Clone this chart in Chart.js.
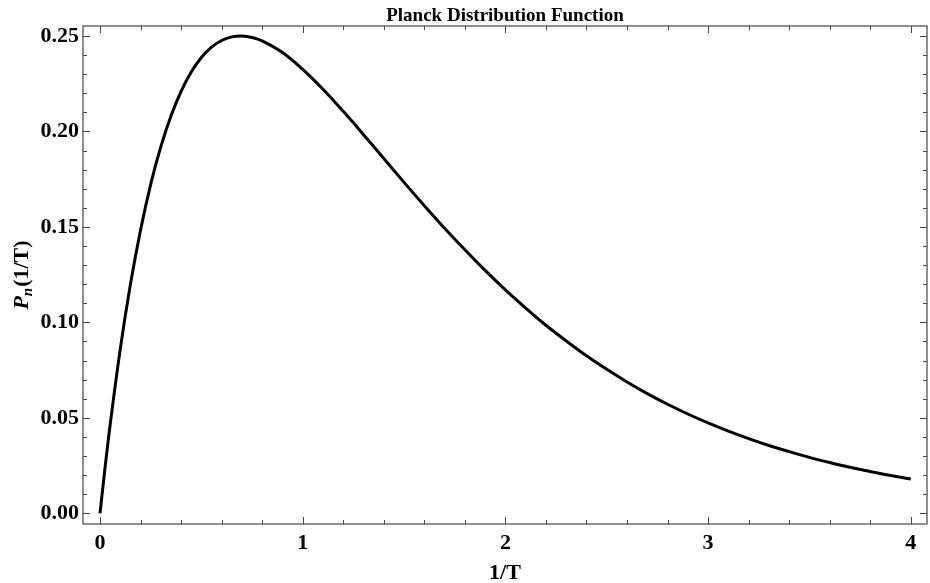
<!DOCTYPE html>
<html>
<head>
<meta charset="utf-8">
<title>Planck Distribution Function</title>
<script src="https://cdn.jsdelivr.net/npm/chart.js@4"></script>
<style>
body { margin: 0; background: #fff; }
#box { width: 930px; height: 583px; }
</style>
</head>
<body>
<div id="box"><canvas id="chart" width="930" height="583"></canvas></div>
<script>
/*
 * 曲线数据。
 */
var xValues = [0, 0.025, 0.05, 0.1, 0.15, 0.2, 0.25, 0.3, 0.35, 0.4, 0.45, 0.5,
	0.55, 0.6, 0.65, 0.7, 0.75, 0.8, 0.9, 1.0, 1.1, 1.2, 1.3, 1.4, 1.5, 1.6, 1.7, 1.8, 1.9, 2.0,
	2.1, 2.2, 2.3, 2.4, 2.5, 2.6, 2.7, 2.8, 2.9, 3.0, 3.1, 3.2, 3.3, 3.4, 3.5,
	3.6, 3.7, 3.8, 3.9, 4.0];
var yValues = [0, 0.0241, 0.0464, 0.0861, 0.1199, 0.1484, 0.1723, 0.1920, 0.2081, 0.2210, 0.2311, 0.2387,
	0.2441, 0.2476, 0.2495, 0.2500, 0.2492, 0.2474, 0.2413, 0.2325, 0.2221, 0.2105, 0.1983, 0.1858, 0.1733, 0.1611, 0.1493, 0.1380, 0.1272, 0.1170,
	0.1075, 0.0985, 0.0903, 0.0825, 0.0754, 0.0688, 0.0627, 0.0571, 0.0520, 0.0473, 0.0430, 0.0391, 0.0355, 0.0323, 0.0293,
	0.0266, 0.0241, 0.0219, 0.0198, 0.0180];

/*
 * 刻度。
 */
var xTicks = [0, 1, 2, 3, 4];
var yTicks = [0, 0.05, 0.10, 0.15, 0.20, 0.25];
var xMinorStep = 0.2;
var yMinorStep = 0.01;

var chartTitle = 'Planck Distribution Function';
var serif = "'Liberation Serif', 'Times New Roman', serif";

var points = [];
for (var i = 0; i < xValues.length; i++) {
	points.push({ x : xValues[i], y : yValues[i] });
}

/*
 * 画边框、向内的刻度线、标题和纵轴标题。
 */
var framePlugin = {
	id : 'frame',
	afterDraw : function(chart) {
		var ctx = chart.ctx;
		var a = chart.chartArea;
		var xs = chart.scales.x;
		var ys = chart.scales.y;
		ctx.save();
		ctx.strokeStyle = '#444';
		ctx.lineWidth = 1.2;
		ctx.strokeRect(a.left, a.top, a.right - a.left, a.bottom - a.top);

		ctx.lineWidth = 1;
		ctx.beginPath();
		var v, p, len;
		for (v = Math.ceil(xs.min / xMinorStep) * xMinorStep; v <= xs.max + 1e-9; v += xMinorStep) {
			p = Math.round(xs.getPixelForValue(v)) + 0.5;
			len = Math.abs(v - Math.round(v)) < 1e-6 ? 7 : 4;
			ctx.moveTo(p, a.bottom);
			ctx.lineTo(p, a.bottom - len);
			ctx.moveTo(p, a.top);
			ctx.lineTo(p, a.top + len);
		}
		for (var k = Math.ceil(ys.min / yMinorStep); k * yMinorStep <= ys.max + 1e-9; k++) {
			v = k * yMinorStep;
			p = Math.round(ys.getPixelForValue(v)) + 0.5;
			len = k % 5 == 0 ? 7 : 4;
			ctx.moveTo(a.left, p);
			ctx.lineTo(a.left + len, p);
			ctx.moveTo(a.right, p);
			ctx.lineTo(a.right - len, p);
		}
		ctx.stroke();

		// 标题,居中于绘图区
		ctx.fillStyle = '#000';
		ctx.textAlign = 'center';
		ctx.textBaseline = 'alphabetic';
		ctx.font = 'bold 19px ' + serif;
		ctx.fillText(chartTitle, (a.left + a.right) / 2, 21);

		// 纵轴标题 P_n(1/T)
		ctx.textAlign = 'left';
		var cy = (a.top + a.bottom) / 2;
		ctx.translate(21, cy);
		ctx.rotate(-Math.PI / 2);
		var f1 = 'italic bold 22px ' + serif;
		var f2 = 'italic bold 15px ' + serif;
		var f3 = 'bold 22px ' + serif;
		ctx.font = f1;
		var w1 = ctx.measureText('P').width;
		ctx.font = f2;
		var w2 = ctx.measureText('n').width;
		ctx.font = f3;
		var w3 = ctx.measureText('(1/T)').width;
		var x0 = -(w1 + w2 + 1 + w3) / 2;
		var base = 7;
		ctx.font = f1;
		ctx.fillText('P', x0, base);
		ctx.font = f2;
		ctx.fillText('n', x0 + w1, base + 4);
		ctx.font = f3;
		ctx.fillText('(1/T)', x0 + w1 + w2 + 1, base);
		ctx.restore();
	}
};

var config = {
	type : 'line',
	data : {
		datasets : [ {
			data : points,
			borderColor : '#000',
			borderWidth : 3,
			pointRadius : 0,
			fill : false,
			tension : 0.4
		} ]
	},
	options : {
		responsive : false,
		devicePixelRatio : 1,
		animation : false,
		layout : {
			padding : { left : 0, right : 3, top : 26, bottom : 0 }
		},
		plugins : {
			legend : { display : false },
			tooltip : { enabled : false },
			title : { display : false }
		},
		scales : {
			x : {
				type : 'linear',
				min : -0.084,
				max : 4.08,
				grid : { display : false, drawTicks : false },
				border : { display : false },
				afterBuildTicks : function(scale) {
					scale.ticks = xTicks.map(function(v) { return { value : v }; });
				},
				afterFit : function(scale) {
					scale.height = 59;
				},
				ticks : {
					autoSkip : false,
					maxRotation : 0,
					padding : 6,
					color : '#000',
					font : { family : serif, size : 22, weight : 'bold' },
					callback : function(value) { return String(value); }
				},
				title : {
					display : true,
					text : '1/T',
					color : '#000',
					font : { family : serif, size : 22, weight : 'bold', lineHeight : 0.9 },
					padding : { top : 0, bottom : 0 }
				}
			},
			y : {
				type : 'linear',
				min : -0.0056,
				max : 0.2552,
				grid : { display : false, drawTicks : false },
				border : { display : false },
				afterBuildTicks : function(scale) {
					scale.ticks = yTicks.map(function(v) { return { value : v }; });
				},
				afterFit : function(scale) {
					scale.width = 83;
				},
				ticks : {
					autoSkip : false,
					padding : 4,
					color : '#000',
					font : { family : serif, size : 22, weight : 'bold' },
					callback : function(value) { return value.toFixed(2); }
				}
			}
		}
	},
	plugins : [ framePlugin ]
};

window.onload = function() {
	var ctx = document.getElementById('chart').getContext('2d');
	window.myChart = new Chart(ctx, config);
};
</script>
</body>
</html>
